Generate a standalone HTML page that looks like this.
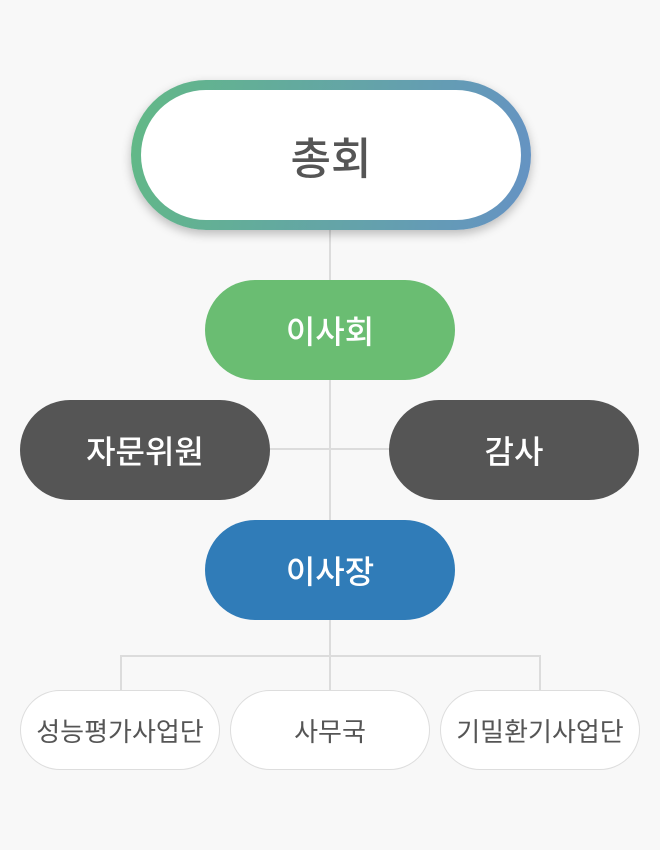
<!DOCTYPE html>
<html><head><meta charset="utf-8"><style>
body{margin:0;width:660px;height:850px;background:#f8f8f8;position:relative;overflow:hidden;font-family:"Liberation Sans","Noto Sans CJK KR",sans-serif}
.n{position:absolute;display:flex;align-items:center;justify-content:center;box-sizing:border-box;border-radius:60px;font-weight:500}
.l{position:absolute;background:#dcdcdc}
</style></head><body>
<div class="l" style="left:329px;top:228px;width:2px;height:430px"></div>
<div class="l" style="left:268px;top:448px;width:124px;height:2px"></div>
<div class="l" style="left:120px;top:655px;width:421px;height:2px"></div>
<div class="l" style="left:120px;top:655px;width:2px;height:36px"></div>
<div class="l" style="left:329px;top:655px;width:2px;height:36px"></div>
<div class="l" style="left:539px;top:655px;width:2px;height:36px"></div>
<div class="n" style="left:131px;top:80px;width:400px;height:150px;border-radius:75px;background:linear-gradient(100deg,#62b986,#6592c4);box-shadow:0 4px 10px rgba(0,0,0,0.25)">
<div class="n" style="position:static;width:380px;height:130px;border-radius:65px;background:#fff;font-size:44px;color:#555">총회</div></div>
<div class="n" style="left:205px;top:280px;width:250px;height:100px;border-radius:50px;background:#6abd72;color:#fff;font-size:32px">이사회</div>
<div class="n" style="left:20px;top:400px;width:250px;height:100px;border-radius:50px;background:#555;color:#fff;font-size:32px">자문위원</div>
<div class="n" style="left:389px;top:400px;width:250px;height:100px;border-radius:50px;background:#555;color:#fff;font-size:32px">감사</div>
<div class="n" style="left:205px;top:520px;width:250px;height:100px;border-radius:50px;background:#307cb8;color:#fff;font-size:32px">이사장</div>
<div class="n" style="left:20px;top:690px;width:200px;height:80px;border-radius:40px;background:#fff;border:1px solid #ddd;color:#555;font-size:26px;font-weight:400">성능평가사업단</div>
<div class="n" style="left:230px;top:690px;width:200px;height:80px;border-radius:40px;background:#fff;border:1px solid #ddd;color:#555;font-size:26px;font-weight:400">사무국</div>
<div class="n" style="left:440px;top:690px;width:200px;height:80px;border-radius:40px;background:#fff;border:1px solid #ddd;color:#555;font-size:26px;font-weight:400">기밀환기사업단</div>
</body></html>
